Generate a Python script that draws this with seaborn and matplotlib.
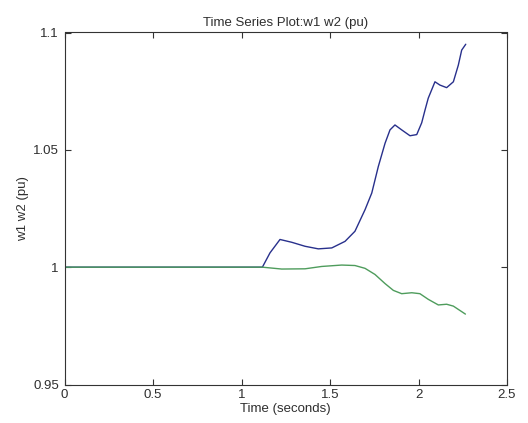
import matplotlib
matplotlib.use("Agg")
import matplotlib.pyplot as plt
import seaborn as sns
import pandas as pd

# Rotor speeds of the two machines (per unit) versus time
t_w1 = [0.0, 1.118, 1.161, 1.2175, 1.284, 1.359, 1.434, 1.51, 1.585, 1.641,
        1.698, 1.736, 1.773, 1.811, 1.839, 1.867, 1.905, 1.952, 1.99, 2.018,
        2.037, 2.055, 2.093, 2.121, 2.159, 2.197, 2.225, 2.244, 2.267]
w1 = [1.0, 1.0, 1.0061, 1.0118, 1.0106, 1.0089, 1.0078, 1.0082, 1.011, 1.0153,
      1.0245, 1.0316, 1.0429, 1.0528, 1.0585, 1.0606, 1.0585, 1.056, 1.0565,
      1.0615, 1.067, 1.072, 1.079, 1.0776, 1.0765, 1.079, 1.0861, 1.0925, 1.095]

t_w2 = [0.0, 1.118, 1.227, 1.359, 1.453, 1.566, 1.641, 1.698, 1.754, 1.811,
        1.858, 1.905, 1.962, 2.008, 2.055, 2.112, 2.159, 2.197, 2.265]
w2 = [1.0, 1.0, 0.9992, 0.9993, 1.0003, 1.0009, 1.0007, 0.9995, 0.9969, 0.993,
      0.9901, 0.9887, 0.9891, 0.9887, 0.9863, 0.9839, 0.9842, 0.9834, 0.980]

x_ticks = [0, 0.5, 1, 1.5, 2, 2.5]
x_tick_labels = ["0", "0.5", "1", "1.5", "2", "2.5"]
y_ticks = [0.95, 1.0, 1.05, 1.1]
y_tick_labels = ["0.95", "1", "1.05", "1.1"]

df = pd.concat([
    pd.DataFrame({"time": t_w1, "value": w1, "signal": "w1"}),
    pd.DataFrame({"time": t_w2, "value": w2, "signal": "w2"}),
], ignore_index=True)

sns.set_style("ticks")
plt.rcParams["font.family"] = ["Liberation Sans", "DejaVu Sans"]
plt.rcParams["font.size"] = 9.5
text_color = "#2e2e2e"

fig = plt.figure(figsize=(5.28, 4.23), dpi=100)
ax = fig.add_axes([64.5 / 528, 1 - 384.5 / 423, 442.5 / 528, 352 / 423])

# w2 is drawn after w1 so it sits on top where both are at 1.0
sns.lineplot(data=df, x="time", y="value", hue="signal",
             palette={"w1": "#28308c", "w2": "#4e9c5c"},
             hue_order=["w1", "w2"], sort=False, estimator=None,
             linewidth=1.0, legend=False, ax=ax)

ax.set_xlim(0, 2.5)
ax.set_ylim(0.95, 1.1)
ax.set_xticks(x_ticks)
ax.set_xticklabels(x_tick_labels)
ax.set_yticks(y_ticks)
ax.set_yticklabels(y_tick_labels)
ax.tick_params(direction="in", top=True, right=True, length=4, width=0.8,
               colors="#333333", labelcolor=text_color)
ax.tick_params(axis="x", pad=3.5)
ax.tick_params(axis="y", pad=4)
for s in ax.spines.values():
    s.set_visible(True)
    s.set_color("#333333")
    s.set_linewidth(0.8)

ax.set_title("Time Series Plot:w1 w2 (pu)", color=text_color, fontsize=9.5, pad=5)
ax.set_xlabel("Time (seconds)", color=text_color, labelpad=1.5)
ax.set_ylabel("w1 w2 (pu)", color=text_color, labelpad=3)

fig.savefig("out.png", dpi=100)
